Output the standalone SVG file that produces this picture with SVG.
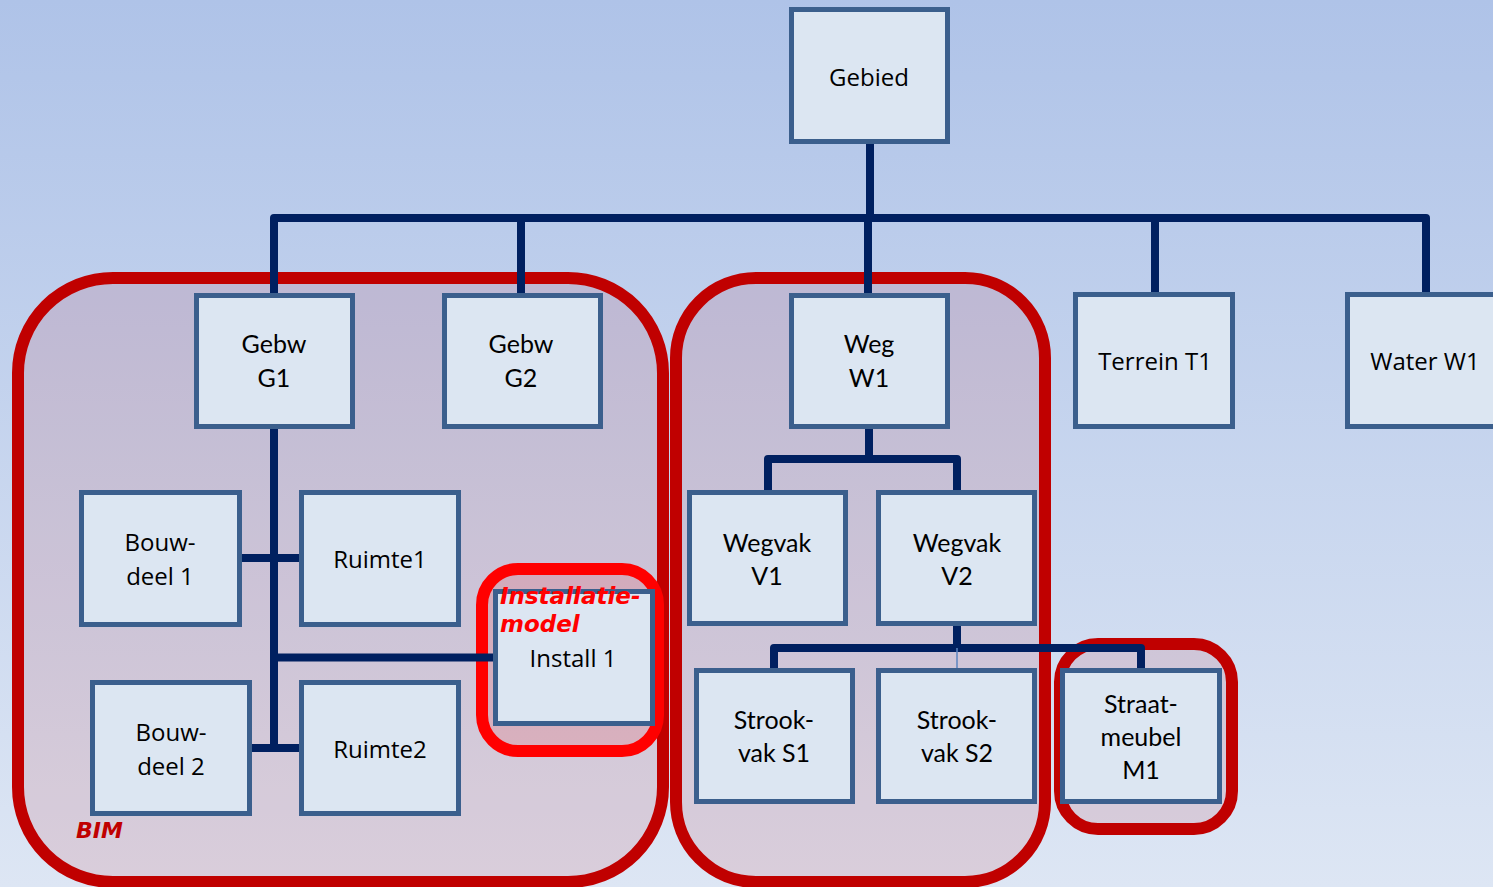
<svg xmlns="http://www.w3.org/2000/svg" width="1493" height="887" viewBox="0 0 1493 887">
<defs>
<linearGradient id="bg" x1="0" y1="0" x2="0" y2="1">
<stop offset="0" stop-color="#afc3e8"/>
<stop offset="1" stop-color="#dde6f4"/>
</linearGradient>
<style>
.box{fill:#dce6f2;stroke:#3b5f8d;stroke-width:5}
.grp{fill:rgba(192,0,0,0.1);stroke:#c00000;stroke-width:12}
.inst{fill:rgba(255,0,0,0.12);stroke:#ff0000;stroke-width:12}
.con{fill:none;stroke:#002060;stroke-width:8;stroke-linejoin:round}
.thin{fill:none;stroke:#5b85c0;stroke-width:1.5}
.t{font-family:"Open Sans","DejaVu Sans",sans-serif;font-size:24px;fill:#000;text-anchor:middle}
.c{font-family:Lato,"Open Sans",sans-serif;font-size:25px;fill:#000;text-anchor:middle}
.lbl{font-family:"DejaVu Sans",sans-serif;font-weight:bold;font-style:italic;font-size:22px}
.big{font-size:23px}
</style>
</defs>
<rect x="0" y="0" width="1493" height="887" fill="url(#bg)"/>

<g id="containers">
<rect id="bim-area" class="grp" x="18" y="278" width="645" height="604" rx="95" ry="95"/>
<rect id="weg-area" class="grp" x="676" y="278" width="369" height="604" rx="80" ry="80"/>
<rect id="straat-area" class="grp" x="1060" y="644" width="172" height="185" rx="38" ry="38"/>
<rect id="install-area" class="inst" x="482" y="569" width="176" height="182" rx="36" ry="36"/>
</g>

<g id="connectors">
<path class="con" d="M870 142 V218"/>
<path class="con" d="M274 296 V218 H1426 V296"/>
<path class="con" d="M521 218 V296"/>
<path class="con" d="M868 218 V296"/>
<path class="con" d="M1155 218 V296"/>
<path class="con" d="M274 428 V752"/>
<path class="con" d="M242 558 H299"/>
<path class="con" d="M274 657.5 H494"/>
<path class="con" d="M252 748 H299"/>
<path class="con" d="M869 428 V459"/>
<path class="con" d="M768 492 V459 H957 V492"/>
<path class="con" d="M957 626 V648"/>
<path class="con" d="M774 670 V648 H1141 V670"/>
<path class="thin" d="M957 648 V670"/>
</g>

<g id="gebied"><rect class="box" x="791.5" y="9.5" width="156" height="132"/><text class="t" x="869" y="86">Gebied</text></g>
<g id="gebw-g1"><rect class="box" x="196.5" y="295.5" width="156" height="131"/><text class="c" x="274" y="353">Gebw</text><text class="c" x="274" y="387">G1</text></g>
<g id="gebw-g2"><rect class="box" x="444.5" y="295.5" width="156" height="131"/><text class="c" x="521" y="353">Gebw</text><text class="c" x="521" y="387">G2</text></g>
<g id="weg-w1"><rect class="box" x="791.5" y="295.5" width="156" height="131"/><text class="c" x="869" y="353">Weg</text><text class="c" x="869" y="387">W1</text></g>
<g id="terrein-t1"><rect class="box" x="1075.5" y="294.5" width="157" height="132"/><text class="t" x="1155" y="370">Terrein T1</text></g>
<g id="water-w1"><rect class="box" x="1347.5" y="294.5" width="160" height="132"/><text class="t" x="1425" y="370">Water W1</text></g>

<g id="bouwdeel-1"><rect class="box" x="81.5" y="492.5" width="158" height="132"/><text class="t" x="160" y="551">Bouw-</text><text class="t" x="160" y="585">deel 1</text></g>
<g id="ruimte1"><rect class="box" x="301.5" y="492.5" width="157" height="132"/><text class="t" x="380" y="568">Ruimte1</text></g>
<g id="bouwdeel-2"><rect class="box" x="92.5" y="682.5" width="157" height="131"/><text class="t" x="171" y="741">Bouw-</text><text class="t" x="171" y="775">deel 2</text></g>
<g id="ruimte2"><rect class="box" x="301.5" y="682.5" width="157" height="131"/><text class="t" x="380" y="758">Ruimte2</text></g>
<g id="install-1"><rect class="box" x="495.5" y="591.5" width="157" height="132"/><text class="t" x="573" y="667">Install 1</text></g>

<g id="wegvak-v1"><rect class="box" x="689.5" y="492.5" width="156" height="131"/><text class="c" x="767" y="552">Wegvak</text><text class="c" x="767" y="585">V1</text></g>
<g id="wegvak-v2"><rect class="box" x="878.5" y="492.5" width="156" height="131"/><text class="c" x="957" y="552">Wegvak</text><text class="c" x="957" y="585">V2</text></g>
<g id="strookvak-s1"><rect class="box" x="696.5" y="670.5" width="156" height="131"/><text class="c" x="774" y="729">Strook-</text><text class="c" x="774" y="762">vak S1</text></g>
<g id="strookvak-s2"><rect class="box" x="878.5" y="670.5" width="156" height="131"/><text class="c" x="957" y="729">Strook-</text><text class="c" x="957" y="762">vak S2</text></g>
<g id="straatmeubel-m1"><rect class="box" x="1062.5" y="670.5" width="157" height="131"/><text class="c" x="1141" y="713">Straat-</text><text class="c" x="1141" y="746">meubel</text><text class="c" x="1141" y="779">M1</text></g>

<g id="labels">
<text class="lbl" x="76" y="838" fill="#c00000">BIM</text>
<text class="lbl big" x="500" y="604" fill="#ff0000">Installatie-</text>
<text class="lbl big" x="500" y="632" fill="#ff0000">model</text>
</g>
</svg>
